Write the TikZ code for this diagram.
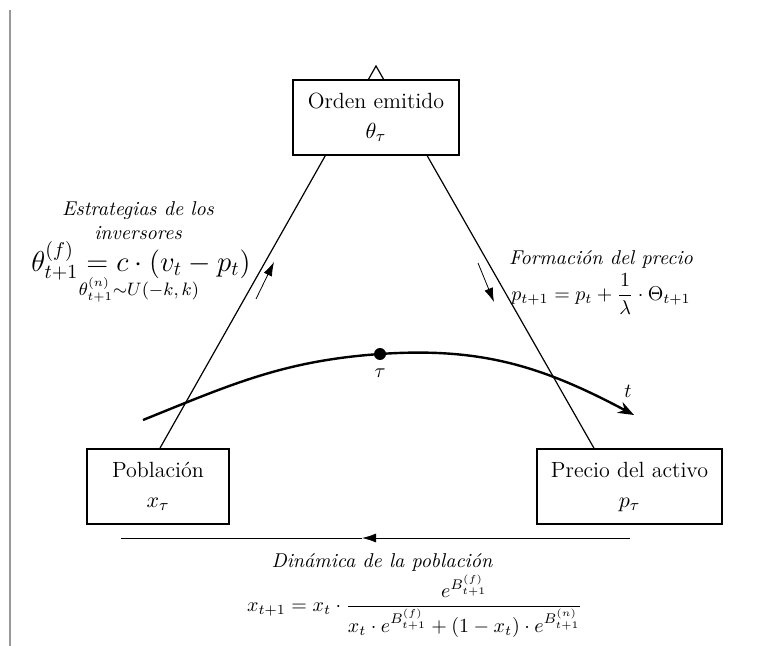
\documentclass[tikz,border=0pt]{standalone}
\usepackage{amsmath,amssymb}
\usetikzlibrary{arrows.meta}

\tikzset{
  caja/.style={draw, thick, fill=white, align=center, minimum height=37.5pt, inner sep=2pt,
    font=\fontsize{11}{14}\selectfont},
  flecha/.style={-{Latex[length=7pt,width=4.5pt]}},
  rotulo/.style={font=\itshape, align=center},
}

\begin{document}
\begin{tikzpicture}[x=0.5pt,y=-0.5pt]
\useasboundingbox (0,0) rectangle (765,646);
\draw[gray!80, line width=1pt] (10,10) -- (10,646);

% triangulo
\coordinate (apex) at (376,66);
\coordinate (pieI) at (151,464);
\coordinate (pieD) at (603,464);
\draw[semithick] (pieI) -- (apex) -- (pieD);

\node[caja, minimum width=83pt] (orden) at (376,117.5) {Orden emitido\\[1pt] $\theta_\tau$};
\node[caja, minimum width=71pt] (pob) at (158,486.5) {Poblaci\'on\\[1pt] $x_\tau$};
\node[caja, minimum width=92.5pt] (precio) at (629.5,486.5) {Precio del activo\\[1pt] $\large p_\tau$};

% flechas pequenas
\coordinate (fiA) at (256,299);
\coordinate (fiB) at (274,262);
\draw[flecha] (fiA) -- (fiB);
\coordinate (fdA) at (478,263);
\coordinate (fdB) at (494,302);
\draw[flecha] (fdA) -- (fdB);

% tiempo
\coordinate (tIni) at (143,420);
\coordinate (tFin) at (634,415);
\node[circle, fill, inner sep=0pt, minimum size=6pt] (tau) at (380,354) {};
\draw[line width=1.2pt, -{Stealth[length=8pt,width=6pt]}] (tIni) to[out=22,in=184] (tau.center) to[out=4,in=152] (tFin);
\node (taulab) at (380,373) {$\tau$};
\node (tlab) at (628,391) {$t$};

% estrategias
\node[rotulo] (estr) at (138,221) {Estrategias de los\\ inversores};
\node[font=\Large] (fundam) at (141,261) {$\theta^{(f)}_{t+1} = c\cdot(v_t-p_t)$};
\node[font=\small] (ruido) at (139,290) {$\theta^{(n)}_{t+1}{\sim}U(-k,k)$};

% precio
\node[rotulo] (form) at (601,259) {Formaci\'on del precio};
\node (precform) at (601,294) {$p_{t+1}=p_t+\dfrac{1}{\lambda}\cdot\Theta_{t+1}$};

% poblacion
\coordinate (bI) at (121,538);
\coordinate (bM) at (362,538);
\coordinate (bD) at (630,538);
\draw[flecha] (bD) -- (bM);
\draw (bM) -- (bI);
\node[rotulo] (din) at (382,562) {Din\'amica de la poblaci\'on};
\node (dinform) at (415,606) {$x_{t+1} = x_t\cdot\dfrac{e^{B^{(f)}_{t+1}}}{x_t\cdot e^{B^{(f)}_{t+1}}+(1-x_t)\cdot e^{B^{(n)}_{t+1}}}$};
\end{tikzpicture}
\end{document}
